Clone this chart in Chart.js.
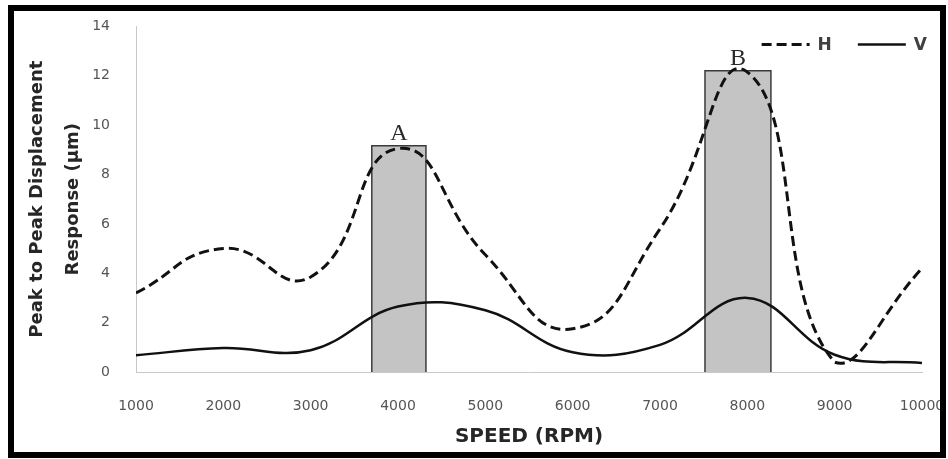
<!DOCTYPE html>
<html>
<head>
<meta charset="utf-8">
<script src="https://cdn.jsdelivr.net/npm/chart.js@4.4.1/dist/chart.umd.min.js"></script>
<style>
  html, body { margin: 0; padding: 0; background: #fff; }
  #wrap { position: relative; width: 948px; height: 459px; }
  #frame { position: absolute; left: 8px; top: 5px; width: 938px; height: 453px;
           border: 6px solid #000; box-sizing: border-box; pointer-events: none; }
</style>
</head>
<body>
<div id="wrap">
  <canvas id="graficoResposta" width="948" height="459"></canvas>
  <div id="frame"></div>
</div>
<script>
// rotação (RPM)
const speeds = [1000, 2000, 3000, 4000, 5000, 6000, 7000, 8000, 9000, 10000];
// resposta pico a pico (µm) - horizontal e vertical
const hResp = [3.2, 5.0, 3.85, 9.05, 4.75, 1.75, 5.8, 12.15, 0.4, 4.2];
const vResp = [0.68, 0.97, 0.88, 2.65, 2.5, 0.8, 1.1, 3.0, 0.7, 0.36];

// faixas de ressonância A e B
const bandLabels = ['A', 'B'];
const bandStart = [3700, 7515];
const bandEnd = [4320, 8270];
const bandTop = [9.17, 12.2];

const yTicks = [0, 2, 4, 6, 8, 10, 12, 14];

const pontos = vals => speeds.map((s, i) => ({ x: s, y: vals[i] }));

// cada faixa vira um retângulo preenchido até o zero
const faixas = bandLabels.map((nome, i) => ({
    label: 'Faixa ' + nome,
    data: [
        { x: bandStart[i], y: 0 },
        { x: bandStart[i], y: bandTop[i] },
        { x: bandEnd[i], y: bandTop[i] },
        { x: bandEnd[i], y: 0 }
    ],
    borderColor: '#3a3a3a',
    borderWidth: 1.5,
    backgroundColor: '#c4c4c4',
    fill: 'origin',
    tension: 0,
    pointRadius: 0
}));

// letras das faixas + legenda no canto
const anotacoes = {
    id: 'anotacoes',
    afterDatasetsDraw(chart) {
        const { ctx, chartArea, scales: { x, y } } = chart;
        ctx.save();
        ctx.font = '24px "Liberation Serif"';
        ctx.fillStyle = '#2a2a2a';
        ctx.textAlign = 'center';
        ctx.textBaseline = 'alphabetic';
        bandLabels.forEach((txt, i) => {
            const cx = x.getPixelForValue((bandStart[i] + bandEnd[i]) / 2);
            ctx.fillText(txt, cx, y.getPixelForValue(bandTop[i]) - 6);
        });

        // legenda H / V
        const itens = chart.data.datasets.slice(0, 2);
        ctx.font = 'bold 17px "DejaVu Sans"';
        const tamLinha = 48, espaco = 8, entre = 26;
        const larguras = itens.map(d => tamLinha + espaco + ctx.measureText(d.label).width);
        let lx = chartArea.right + 5 - larguras.reduce((a, b) => a + b, 0) - entre;
        const ly = chartArea.top + 18;
        itens.forEach((d, i) => {
            ctx.beginPath();
            ctx.setLineDash(d.borderDash || []);
            ctx.lineWidth = d.borderWidth;
            ctx.strokeStyle = d.borderColor;
            ctx.moveTo(lx, ly);
            ctx.lineTo(lx + tamLinha, ly);
            ctx.stroke();
            ctx.setLineDash([]);
            ctx.fillStyle = '#404040';
            ctx.textAlign = 'left';
            ctx.textBaseline = 'middle';
            ctx.fillText(d.label, lx + tamLinha + espaco, ly + 1);
            lx += larguras[i] + entre;
        });
        ctx.restore();
    }
};

new Chart(document.getElementById('graficoResposta'), {
    type: 'line',
    data: {
        datasets: [
            {
                label: 'H',
                data: pontos(hResp),
                borderColor: '#111',
                borderWidth: 3,
                borderDash: [10, 5],
                tension: 0.5,
                pointRadius: 0,
                fill: false
            },
            {
                label: 'V',
                data: pontos(vResp),
                borderColor: '#111',
                borderWidth: 2.5,
                tension: 0.4,
                pointRadius: 0,
                fill: false
            },
            ...faixas
        ]
    },
    options: {
        responsive: false,
        animation: false,
        layout: { padding: { left: 14, right: 26, top: 24, bottom: 0 } },
        plugins: { legend: { display: false }, tooltip: { enabled: false } },
        scales: {
            x: {
                type: 'linear',
                min: speeds[0],
                max: speeds[speeds.length - 1],
                afterFit(scale) {
                    scale.height = 87;
                    // o último rótulo pode passar um pouco da área
                    scale.paddingRight = 0;
                },
                grid: { display: false },
                border: { color: '#c8c8c8', width: 1 },
                ticks: {
                    stepSize: 1000,
                    padding: 18,
                    color: '#555',
                    font: { family: 'DejaVu Sans', size: 14 },
                    maxRotation: 0,
                    callback: v => String(v)
                },
                title: {
                    display: true,
                    text: 'SPEED (RPM)',
                    color: '#262626',
                    font: { family: 'DejaVu Sans', size: 20, weight: 'bold', lineHeight: 1.2 },
                    padding: { top: 0, bottom: 10 }
                }
            },
            y: {
                min: yTicks[0],
                max: yTicks[yTicks.length - 1],
                afterFit(scale) { scale.width = 122; },
                afterBuildTicks(scale) { scale.ticks = yTicks.map(v => ({ value: v })); },
                grid: { display: false },
                border: { color: '#c8c8c8', width: 1 },
                ticks: {
                    padding: 18,
                    color: '#555',
                    font: { family: 'DejaVu Sans', size: 14 }
                },
                title: {
                    display: true,
                    text: ['Peak to Peak Displacement', 'Response (µm)'],
                    color: '#262626',
                    font: { family: 'DejaVu Sans', size: 18, weight: 'bold', lineHeight: 2 },
                    padding: { top: 5, bottom: 0 }
                }
            }
        }
    },
    plugins: [anotacoes]
});
</script>
</body>
</html>
